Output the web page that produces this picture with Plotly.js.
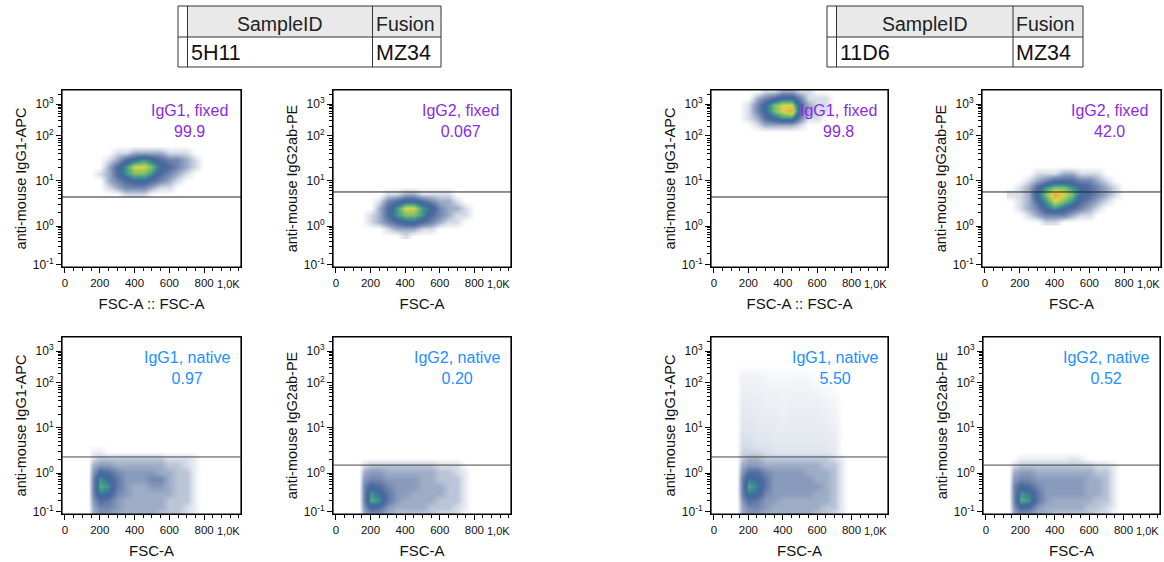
<!DOCTYPE html>
<html><head><meta charset="utf-8">
<script src="https://cdn.plot.ly/plotly-3.0.1.min.js"></script>
<style>html,body{margin:0;padding:0;background:#fff}#chart{width:1164px;height:562px}</style>
</head><body><div id="chart"></div>
<script>
// ---------------- DATA ----------------
const tableHeaders = ['SampleID', 'Fusion'];
const sampleIDs = ['5H11', '11D6'];
const fusions = ['MZ34', 'MZ34'];

const panelStains = ['IgG1, fixed', 'IgG2, fixed', 'IgG1, fixed', 'IgG2, fixed',
                     'IgG1, native', 'IgG2, native', 'IgG1, native', 'IgG2, native'];
const panelPercents = ['99.9', '0.067', '99.8', '42.0', '0.97', '0.20', '5.50', '0.52'];
const yTitles = ['anti-mouse IgG1-APC', 'anti-mouse IgG2ab-PE', 'anti-mouse IgG1-APC', 'anti-mouse IgG2ab-PE',
                 'anti-mouse IgG1-APC', 'anti-mouse IgG2ab-PE', 'anti-mouse IgG1-APC', 'anti-mouse IgG2ab-PE'];
const xTitles = ['FSC-A :: FSC-A', 'FSC-A', 'FSC-A :: FSC-A', 'FSC-A', 'FSC-A', 'FSC-A', 'FSC-A', 'FSC-A'];

// gate threshold, in display channels (0-1024, biexponential display)
const gateLevels = [405, 434, 405, 434, 330, 283, 330, 283];

// axis ticks
const yTickVals = [12, 237, 498, 758, 943];           // display channel of each decade
const yTickText = ['10<sup>-1</sup>', '10<sup>0</sup>', '10<sup>1</sup>', '10<sup>2</sup>', '10<sup>3</sup>'];
const xTickVals = [0, 200, 400, 600, 800, 1000];
const xTickText = ['0', '200', '400', '600', '800', '1,0K'];

// density grids (FSC-A columns, display-channel rows, relative event density 0-10)
const fixedFSC = [150, 200, 250, 300, 350, 400, 450, 500, 550, 600, 650, 700, 750, 800];
const nativeFSC = [130, 160, 200, 250, 300, 350, 400, 450, 500, 550, 600, 650, 700, 750, 780];

// 5H11 IgG1 fixed
const p1Chan = [420, 460, 500, 540, 580, 620, 660, 700];
const p1Density = [
  [0,0,0,0,1,1,1,0,0,0,0,0,0,0],
  [0,0,1,2,3,3,3,2,1,1,0,0,0,0],
  [0,0,2,3,4,5,5,4,3,2,1,0,0,0],
  [0,1,2,4,6,7,7,6,4,3,2,1,0,0],
  [0,0,2,4,6,8,8,7,5,4,3,2,1,0],
  [0,0,1,2,4,5,6,5,4,3,3,2,1,0],
  [0,0,0,1,1,2,2,2,2,1,1,1,0,0],
  [0,0,0,0,0,0,0,0,0,0,0,0,0,0]
];
// 5H11 IgG2 fixed
const p2Chan = [180, 220, 260, 300, 340, 380, 420, 460];
const p2Density = [
  [0,0,0,0,0,1,0,0,0,0,0,0,0,0],
  [0,0,0,1,2,2,2,1,1,0,0,0,0,0],
  [0,1,2,3,4,5,5,4,3,2,1,1,0,0],
  [0,1,2,4,6,7,7,6,4,3,2,1,1,0],
  [0,0,2,4,6,8,8,6,5,3,2,2,1,0],
  [0,0,1,3,4,5,5,4,3,2,2,1,0,0],
  [0,0,0,1,1,2,2,1,1,1,1,0,0,0],
  [0,0,0,0,0,0,0,0,0,0,0,0,0,0]
];
// 11D6 IgG1 fixed
const p3Chan = [780, 820, 860, 900, 940, 980, 1020];
const p3Density = [
  [0,0,0,0,0,0,0,0,0,0,0,0,0,0],
  [0,0,1,2,2,2,2,1,0,0,0,0,0,0],
  [0,1,2,4,5,6,6,3,1,1,0,0,0,0],
  [0,1,3,5,7,8,9,4,2,1,1,0,0,0],
  [0,1,3,5,7,8,8,4,2,1,1,0,0,0],
  [0,0,2,3,4,5,5,3,1,1,1,0,0,0],
  [0,0,0,1,1,2,2,1,1,0,0,0,0,0]
];
// 11D6 IgG2 fixed
const p4Chan = [260, 300, 340, 380, 420, 460, 500, 540, 580];
const p4Density = [
  [0,0,0,0,1,1,0,0,0,0,0,0,0,0],
  [0,0,1,2,3,3,3,2,1,1,0,0,0,0],
  [0,1,2,3,5,6,5,4,3,2,1,0,0,0],
  [0,1,2,4,6,8,7,6,4,3,2,1,0,0],
  [1,1,2,5,7,9,8,7,5,4,3,2,1,0],
  [0,1,2,4,6,7,7,6,5,4,3,2,1,0],
  [0,0,1,2,3,4,4,4,3,3,2,1,0,0],
  [0,0,0,1,1,1,2,2,1,1,1,0,0,0],
  [0,0,0,0,0,0,0,0,0,0,0,0,0,0]
];
// 5H11 IgG1 native
const p5Chan = [0, 40, 80, 120, 160, 200, 240, 280, 320, 360, 400];
const p5Density = [
  [0,2,2.5,2.5,2,2,2,2,2,1.5,1.5,1.5,1,0.5,0],
  [0,2,3,3,2.5,2,2,2,2,2,1.5,1.5,1,0.5,0],
  [0,2.5,4,3.5,2.5,2,2,2,2,2,1.5,1.5,1.5,0.5,0],
  [0,3,5.5,5,3,2.5,2,2,2,2,2,1.5,1.5,0.5,0],
  [0,3,6.5,6,3.5,2.5,2,2,2.5,2.5,2,1.5,1.5,0.5,0],
  [0,3,6,5,3.5,2.5,2.5,2.5,3,3,2,1.5,1.5,0.5,0],
  [0,2.5,4.5,4,3,2.5,2.5,2.5,2.5,2,2,1.5,1.5,0.5,0],
  [0,2,2.5,2.5,2,2,2,2,2,2,1.5,1.5,1,0.5,0],
  [0,1,1.5,1.5,1.5,1.5,1.5,1.5,1.5,1.5,1,1,1,0.5,0],
  [0,0.5,0.5,0,0,0,0,0,0,0,0,0,0,0,0],
  [0,0,0,0,0,0,0,0,0,0,0,0,0,0,0]
];
// 5H11 IgG2 native
const p6Chan = [0, 40, 80, 120, 160, 200, 240, 280, 320];
const p6Density = [
  [0,2,2.5,2.5,2,1.5,1.5,1.5,1.5,1.5,1,1,1,0,0],
  [0,2.5,4.5,4,2.5,2,2,2,2,1.5,1.5,1.5,1,0.5,0],
  [0,3,6.5,6,3.5,2.5,2,2,2,2,1.5,1.5,1.5,0.5,0],
  [0,3,6,5,3.5,2.5,2.5,2,2,2,2,1.5,1.5,0.5,0],
  [0,3,4.5,4,3,2.5,2.5,2.5,2,2,2,1.5,1.5,0.5,0],
  [0,2.5,3,3,2.5,2.5,2.5,2.5,2,2,1.5,1.5,1.5,0.5,0],
  [0,2,2.5,2.5,2,2,2,2,2,2,1.5,1.5,1,0.5,0],
  [0,1,1.5,1.5,1.5,1.5,1.5,1.5,1.5,1.5,1,1,1,0,0],
  [0,0,0,0,0,0,0,0,0,0,0,0,0,0,0]
];
// 11D6 IgG1 native
const p7Chan = [0, 40, 80, 120, 160, 200, 240, 280, 320, 360, 400, 480, 560, 640, 720, 800, 860];
const p7Density = [
  [0,2,2.5,2.5,2,2,2,2,2,2,1.5,1.5,1,0.5,0],
  [0,2,3,3,2.5,2,2,2,2,2,2,1.5,1.5,0.5,0],
  [0,2.5,4,3.5,2.5,2.5,2,2,2,2,2,2,1.5,0.5,0],
  [0,3,5.5,5,3,2.5,2.5,2.5,2.5,2.5,2,2,1.5,0.5,0],
  [0,3,6.5,5.5,3.5,2.5,2.5,2.5,2.5,2.5,2.5,2,1.5,0.5,0],
  [0,3,5.5,5,3.5,2.5,2.5,2.5,2.5,2.5,2,2,1.5,0.5,0],
  [0,2.5,4,4,3,2.5,2.5,2.5,2.5,2,2,2,1.5,0.5,0],
  [0,2,2.5,2.5,2,2,2,2,2,2,2,1.5,1.5,0.5,0],
  [0,1.5,2,2,1.5,1.5,1.5,1.5,1.5,1.5,1.5,1.5,1,0.5,0],
  [0,1.2,1.2,1.2,1,0.8,0.8,0.8,0.8,0.8,0.8,0.8,0.6,0,0],
  [0,1,1,0.8,0.8,0.7,0.7,0.7,0.7,0.7,0.7,0.7,0.6,0,0],
  [0,0.8,0.8,0.7,0.7,0.6,0.6,0.6,0.6,0.6,0.6,0.6,0.5,0,0],
  [0,0.7,0.7,0.6,0.6,0.6,0.5,0.6,0.6,0.6,0.6,0.5,0.4,0,0],
  [0,0.6,0.6,0.6,0.5,0.5,0.4,0.5,0.5,0.5,0.5,0.4,0.3,0,0],
  [0,0.5,0.5,0.5,0.4,0.4,0.4,0.4,0.4,0.4,0.3,0.2,0.1,0,0],
  [0,0.4,0.4,0.4,0.3,0.2,0.2,0.2,0.3,0.2,0.1,0,0,0,0],
  [0,0,0,0,0,0,0,0,0,0,0,0,0,0,0]
];
// 11D6 IgG2 native
const p8Chan = [0, 40, 80, 120, 160, 200, 240, 280, 320, 360];
const p8Density = [
  [0,2,2.5,2.5,2,2,1.5,1.5,1.5,1.5,1.5,1,1,0,0],
  [0,2.5,4.5,4,2.5,2,2,2,2,2,1.5,1.5,1,0.5,0],
  [0,3,6.5,6,3.5,2.5,2,2,2,2,2,1.5,1.5,0.5,0],
  [0,3,6,5.5,3.5,2.5,2.5,2.5,2.5,2.5,2,2,1.5,0.5,0],
  [0,3,4.5,4,3,2.5,2.5,2.5,2.5,2.5,2,2,1.5,0.5,0],
  [0,2.5,3,3,2.5,2.5,2.5,2.5,2.5,2.5,2,2,1.5,0.5,0],
  [0,2,2.5,2.5,2,2,2,2,2,2,2,1.5,1.5,0.5,0],
  [0,1,1.5,1.5,1.5,1.5,1.5,1.5,1.5,1.5,1.5,1,1,0.5,0],
  [0,0,0.5,0.5,0.5,0.5,0.5,0.5,0.8,0.5,0,0,0,0,0],
  [0,0,0,0,0,0,0,0,0,0,0,0,0,0,0]
];

// ---------------- LAYOUT / RENDER ----------------
const W = 1164, H = 562;
const FONT = 'Liberation Sans, Arial, sans-serif';
const panels = [
  {fsc: fixedFSC, chan: p1Chan, z: p1Density},
  {fsc: fixedFSC, chan: p2Chan, z: p2Density},
  {fsc: fixedFSC, chan: p3Chan, z: p3Density},
  {fsc: fixedFSC, chan: p4Chan, z: p4Density},
  {fsc: nativeFSC, chan: p5Chan, z: p5Density},
  {fsc: nativeFSC, chan: p6Chan, z: p6Density},
  {fsc: nativeFSC, chan: p7Chan, z: p7Density},
  {fsc: nativeFSC, chan: p8Chan, z: p8Density}
];
// plot-area pixel boxes [left, right, top, bottom]
const boxes = [
  [62, 241, 90, 267], [333, 511, 90, 267], [711, 888, 90, 267], [982, 1161, 90, 267],
  [62, 241, 337, 514], [333, 511, 337, 514], [711, 888, 337, 514], [983, 1160, 337, 514]
];
const labelX = [0.715, 0.719, 0.718, 0.715, 0.70, 0.697, 0.70, 0.695];

const colorscale = [
  [0.0, '#ffffff'], [0.05, '#eceff4'], [0.1, '#d6dde8'], [0.2, '#9eadc6'], [0.3, '#7388b1'],
  [0.4, '#516d9e'], [0.5, '#3f6a9e'], [0.6, '#3f9490'], [0.7, '#7dbf6a'],
  [0.8, '#d3d64e'], [0.9, '#f2a53c'], [1.0, '#e2553a']
];

// minor ticks of the decade axis
const yMinor = [];
for (let k = 0; k < yTickVals.length - 1; k++) {
  for (let m = 2; m <= 9; m++) yMinor.push(yTickVals[k] + Math.log10(m) * (yTickVals[k + 1] - yTickVals[k]));
}
for (let m = 2; m <= 9; m++) {
  const n = yTickVals.length;
  const above = yTickVals[n - 1] + Math.log10(m) * (yTickVals[n - 1] - yTickVals[n - 2]);
  if (above < 1024) yMinor.push(above);
}

const traces = [];
const layout = {
  width: W, height: H, margin: {l: 0, r: 0, t: 0, b: 0},
  paper_bgcolor: '#fff', plot_bgcolor: '#fff', showlegend: false,
  font: {family: FONT, color: '#111'},
  shapes: [], annotations: []
};

panels.forEach((p, i) => {
  const n = i + 1;
  const xa = n === 1 ? 'x' : 'x' + n, ya = n === 1 ? 'y' : 'y' + n;
  const xk = n === 1 ? 'xaxis' : 'xaxis' + n, yk = n === 1 ? 'yaxis' : 'yaxis' + n;
  const b = boxes[i];
  traces.push({
    type: 'heatmap', x: p.fsc, y: p.chan, z: p.z, xaxis: xa, yaxis: ya,
    zmin: 0, zmax: 10, colorscale: colorscale, zsmooth: 'best', showscale: false, hoverinfo: 'skip'
  });
  layout[xk] = {
    domain: [b[0] / W, b[1] / W], anchor: ya, range: [-17, 1012],
    tickmode: 'array', tickvals: xTickVals.slice(0, 5), ticktext: xTickText.slice(0, 5),
    ticks: 'outside', ticklen: 5, tickcolor: '#000', tickfont: {size: 11.5, color: '#111'},
    minor: {tickmode: 'linear', tick0: 0, dtick: 50, ticks: 'outside', ticklen: 3, tickcolor: '#000', showgrid: false},
    showline: true, linecolor: '#000', linewidth: 1, mirror: true,
    showgrid: false, zeroline: false, fixedrange: true,
    title: {text: xTitles[i], font: {size: 15, color: '#111'}, standoff: 10}
  };
  layout[yk] = {
    domain: [1 - b[3] / H, 1 - b[2] / H], anchor: xa, range: [0, 1024],
    tickmode: 'array', tickvals: yTickVals, ticktext: yTickText,
    ticks: 'outside', ticklen: 5, tickcolor: '#000', tickfont: {size: 12, color: '#111'},
    minor: {tickmode: 'array', tickvals: yMinor, ticks: 'outside', ticklen: 3, tickcolor: '#000', showgrid: false},
    showline: true, linecolor: '#000', linewidth: 1, mirror: true,
    showgrid: false, zeroline: false, fixedrange: true,
    title: {text: yTitles[i], font: {size: 14.5, color: '#111'}, standoff: 2}
  };
  // panel frame
  layout.shapes.push({
    type: 'rect', xref: xa + ' domain', yref: ya + ' domain', x0: 0, x1: 1, y0: 0, y1: 1,
    line: {color: '#000', width: 1.2}, layer: 'above'
  });
  // gate line
  layout.shapes.push({
    type: 'line', xref: xa + ' domain', yref: ya, x0: 0, x1: 1, y0: gateLevels[i], y1: gateLevels[i],
    line: {color: i < 4 ? '#222' : '#444', width: 1}, layer: 'above'
  });
  // gate label
  layout.annotations.push({
    xref: xa + ' domain', yref: ya + ' domain', x: labelX[i], y: 1 - 10 / 177,
    xanchor: 'center', yanchor: 'top', showarrow: false, align: 'center',
    text: panelStains[i] + '<br>' + panelPercents[i],
    font: {size: 16, color: i < 4 ? '#8a2be2' : '#1e8fff'}
  });
  // last x tick label, kept inside the frame as in the source
  layout.annotations.push({
    xref: xa + ' domain', yref: ya + ' domain', x: 1, y: 0, xanchor: 'right', yanchor: 'top',
    xshift: 1, yshift: -9, showarrow: false, text: xTickText[5], font: {size: 11, color: '#111'}
  });
});

// sample tables
const px = x => x / W, py = y => 1 - y / H;
const tables = [
  {l: 178, s: 187.5, c: 372.5, r: 441},
  {l: 827, s: 836.5, c: 1013, r: 1083}
];
tables.forEach((t, k) => {
  const top = 6, mid = 37, bot = 67;
  layout.shapes.push(
    {type: 'rect', xref: 'paper', yref: 'paper', x0: px(t.s), x1: px(t.r), y0: py(mid), y1: py(top),
     fillcolor: '#e9e9e9', line: {width: 0}, layer: 'below'},
    {type: 'rect', xref: 'paper', yref: 'paper', x0: px(t.l), x1: px(t.r), y0: py(bot), y1: py(top),
     line: {color: '#333', width: 1}},
    {type: 'line', xref: 'paper', yref: 'paper', x0: px(t.s), x1: px(t.s), y0: py(bot), y1: py(top),
     line: {color: '#333', width: 1}},
    {type: 'line', xref: 'paper', yref: 'paper', x0: px(t.c), x1: px(t.c), y0: py(bot), y1: py(top),
     line: {color: '#333', width: 1}},
    {type: 'line', xref: 'paper', yref: 'paper', x0: px(t.l), x1: px(t.r), y0: py(mid), y1: py(mid),
     line: {color: '#333', width: 1}}
  );
  layout.annotations.push(
    {xref: 'paper', yref: 'paper', x: px((t.s + t.c) / 2), y: py(24), xanchor: 'center', yanchor: 'middle',
     showarrow: false, text: tableHeaders[0], font: {size: 19.5, color: '#222'}},
    {xref: 'paper', yref: 'paper', x: px(t.c + 1), y: py(24), xanchor: 'left', yanchor: 'middle',
     showarrow: false, text: tableHeaders[1], font: {size: 19.5, color: '#222'}},
    {xref: 'paper', yref: 'paper', x: px(t.s + 1), y: py(53), xanchor: 'left', yanchor: 'middle',
     showarrow: false, text: sampleIDs[k], font: {size: 21.5, color: '#111'}},
    {xref: 'paper', yref: 'paper', x: px(t.c + 1), y: py(53), xanchor: 'left', yanchor: 'middle',
     showarrow: false, text: fusions[k], font: {size: 21.5, color: '#111'}}
  );
});

Plotly.newPlot('chart', traces, layout, {staticPlot: true, displayModeBar: false});
</script>
</body></html>
